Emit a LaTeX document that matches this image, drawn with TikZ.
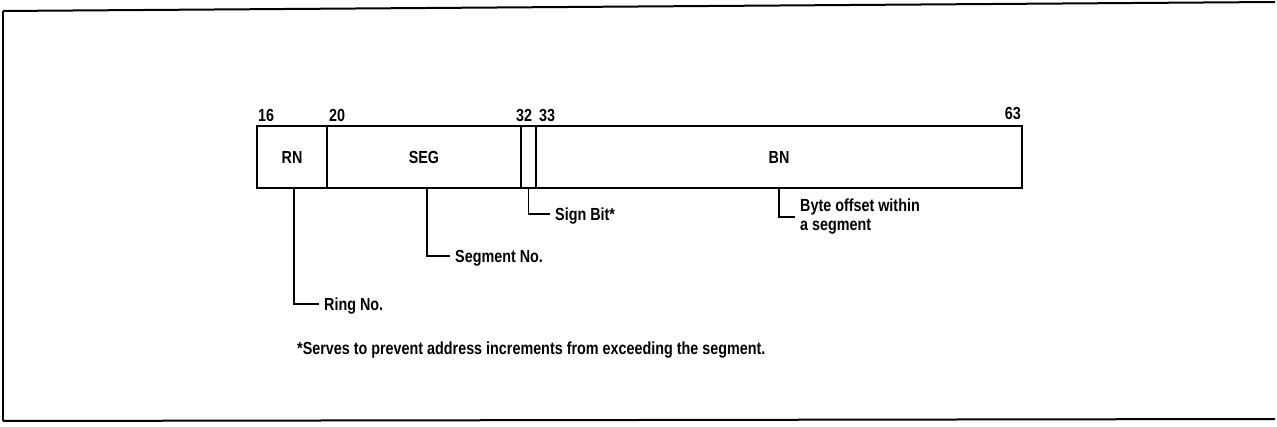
\documentclass[tikz,border=0pt]{standalone}
\usepackage{fontspec}
\setmainfont{Liberation Sans}[FakeStretch=0.82]
\begin{document}
\begin{tikzpicture}[x=1pt,y=-1pt,
  txt/.style={font=\fontsize{17.5}{19}\selectfont\bfseries},
  lbl/.style={txt, inner sep=0pt},
  field/.style={txt, draw, line width=1.8pt, inner sep=0pt, minimum height=62pt},
  callout/.style={txt, inner ysep=0pt, inner xsep=5pt, text height=12.5pt,
    text depth=0pt, anchor=west},
  leader/.style={line width=1.5pt},
  frame/.style={line width=2pt}]
\useasboundingbox (0,0) rectangle (1277,427);
% outer frame
\draw[frame] (3,11) -- (1275,2);
\draw[frame] (3,11) -- (3,421);
\draw[frame] (3,421) -- (1275,419);
% fields
\node[field, minimum width=70pt]  (rn)  at (292,157)   {RN};
\node[field, minimum width=194pt] (seg) at (424,157)   {SEG};
\node[field, minimum width=15pt]  (sb)  at (528.5,157) {};
\node[field, minimum width=486pt] (bn)  at (779,157)   {BN};
% bit numbers
\node[lbl, anchor=base west] (b16) at (258,122) {16};
\node[lbl, anchor=base west] (b20) at (329,122) {20};
\node[lbl, anchor=base west] (b32) at (516,122) {32};
\node[lbl, anchor=base west] (b33) at (539,122) {33};
\node[lbl, anchor=base east] (b63) at (1021,120) {63};
% callouts
\node[callout] (ring)  at (319,304) {Ring No.};
\node[callout] (segno) at (450,256) {Segment No.};
\node[callout] (sign)  at (550,214) {Sign Bit*};
\node[txt, inner ysep=0pt, inner xsep=5pt, align=left, anchor=west]
  (byte) at (795,217) {Byte offset within\\a segment};
\draw[leader] ([xshift=2pt]rn.south) |- (ring.west);
\draw[leader] ([xshift=3pt]seg.south) |- (segno.west);
\draw[leader] (sb.south) |- (sign.west);
\draw[leader] (bn.south) |- (byte.west);
% footnote
\node[lbl, anchor=west] (note) at (297,350)
  {*Serves to prevent address increments from exceeding the segment.};
\end{tikzpicture}
\end{document}
